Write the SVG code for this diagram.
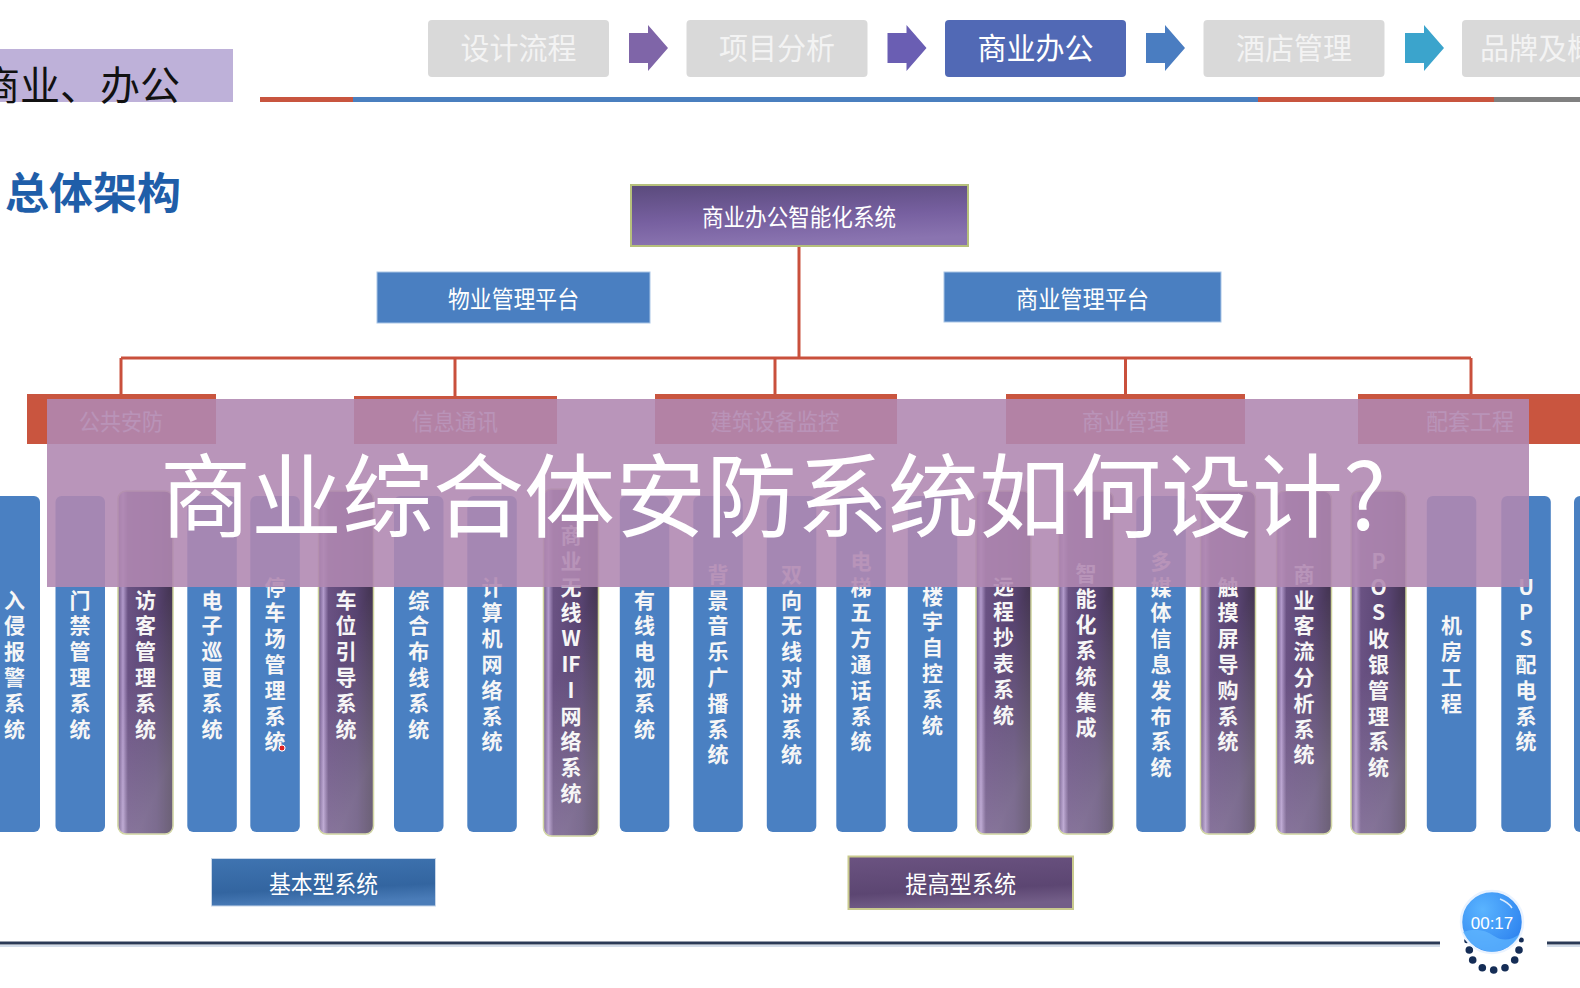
<svg xmlns="http://www.w3.org/2000/svg" width="1580" height="988" viewBox="0 0 1580 988">
<defs>
<style>
text { font-family: 'Noto Sans CJK SC', 'Noto Sans CJK JP', sans-serif; }
.c { text-anchor: middle; dominant-baseline: central; }
.tab { fill: #d9d9d9; }
.tabt { fill: #f3f3f3; font-size: 30px; }
.w { fill: #ffffff; }
.conn { stroke: #c9503c; stroke-width: 3; fill: none; }
.cat { fill: #c9553f; }
.catt { fill: #fbeeee; font-size: 23px; }
.bcol { fill: #4a80c2; }
.pcol { fill: url(#pg); stroke: #cdd29a; stroke-width: 1.5; }
.psh { fill: url(#psh); }
.colt { fill: #f6f6f6; font-size: 21px; font-weight: 700; text-anchor: middle; dominant-baseline: central; }
.dot { fill: #152d56; }
</style>
<linearGradient id="pg" x1="0" y1="0" x2="1" y2="0">
<stop offset="0" stop-color="#6d5687"/>
<stop offset="0.09" stop-color="#b29acb"/>
<stop offset="0.18" stop-color="#6a5283"/>
<stop offset="0.7" stop-color="#574370"/>
<stop offset="1" stop-color="#42334f"/>
</linearGradient>
<linearGradient id="psh" x1="0" y1="0" x2="0.35" y2="1">
<stop offset="0.55" stop-color="#ffffff" stop-opacity="0"/>
<stop offset="1" stop-color="#ffffff" stop-opacity="0.22"/>
</linearGradient>
<linearGradient id="rootg" x1="0" y1="0" x2="0.2" y2="1">
<stop offset="0" stop-color="#5a4a7c"/>
<stop offset="0.6" stop-color="#7760a0"/>
<stop offset="1" stop-color="#8a74b0"/>
</linearGradient>
<linearGradient id="basg" x1="0" y1="0" x2="0.2" y2="1">
<stop offset="0" stop-color="#3f74b1"/>
<stop offset="0.7" stop-color="#3365a0"/>
<stop offset="1" stop-color="#4a7cb8"/>
</linearGradient>
<linearGradient id="advg" x1="0" y1="0" x2="0.2" y2="1">
<stop offset="0" stop-color="#6b5381"/>
<stop offset="0.7" stop-color="#5c4672"/>
<stop offset="1" stop-color="#735e88"/>
</linearGradient>
<radialGradient id="timg" cx="0.35" cy="0.3" r="0.8">
<stop offset="0" stop-color="#5ab4ff"/>
<stop offset="1" stop-color="#2a7fee"/>
</radialGradient>
</defs>

<rect x="0" y="0" width="1580" height="988" fill="#ffffff"/>

<g id="header">
<rect x="0" y="49" width="233" height="53" fill="#beb1d9"/>
<text x="-20" y="83" font-size="40" fill="#111111" dominant-baseline="central">商业、办公</text>
<rect x="260" y="97" width="93" height="5" fill="#c8553f"/>
<rect x="353" y="97" width="905" height="5" fill="#4a7fbf"/>
<rect x="1258" y="97" width="236" height="5" fill="#c8553f"/>
<rect x="1494" y="97" width="86" height="5" fill="#808080"/>
</g>

<g id="tab-1"><rect class="tab" x="428" y="20" width="181" height="57" rx="4"/><text class="c tabt" x="518.5" y="46" textLength="116" lengthAdjust="spacingAndGlyphs">设计流程</text></g>
<g id="tab-2"><rect class="tab" x="686.5" y="20" width="181" height="57" rx="4"/><text class="c tabt" x="777" y="46" textLength="116" lengthAdjust="spacingAndGlyphs">项目分析</text></g>
<g id="tab-3"><rect x="945" y="20" width="181" height="57" rx="4" fill="#5169b5"/><text class="c tabt" x="1035.5" y="46" style="fill:#ffffff" textLength="116" lengthAdjust="spacingAndGlyphs">商业办公</text></g>
<g id="tab-4"><rect class="tab" x="1203.5" y="20" width="181" height="57" rx="4"/><text class="c tabt" x="1294" y="46" textLength="116" lengthAdjust="spacingAndGlyphs">酒店管理</text></g>
<g id="tab-5"><rect class="tab" x="1462" y="20" width="181" height="57" rx="4"/><text class="c tabt" x="1552.5" y="46" textLength="145" lengthAdjust="spacingAndGlyphs">品牌及概念</text></g>
<g id="tab-arrows">
<polygon points="629,33 648,33 648,25 668,48 648,71 648,63 629,63" fill="#7f65a8"/>
<polygon points="887.5,33 906.5,33 906.5,25 926.5,48 906.5,71 906.5,63 887.5,63" fill="#6a5eb3"/>
<polygon points="1146,33 1165,33 1165,25 1185,48 1165,71 1165,63 1146,63" fill="#4a7dc1"/>
<polygon points="1405,33 1424,33 1424,25 1444,48 1424,71 1424,63 1405,63" fill="#3ba4cc"/>
</g>

<g id="section-title"><text x="5" y="189.5" font-size="43" font-weight="700" fill="#1f5ea9" dominant-baseline="central" textLength="176" lengthAdjust="spacingAndGlyphs">总体架构</text></g>

<g id="connectors">
<line class="conn" x1="799" y1="246" x2="799" y2="358" stroke-width="4"/>
<line class="conn" x1="121" y1="358" x2="1471" y2="358"/>
<line class="conn" x1="121" y1="358" x2="121" y2="394"/>
<line class="conn" x1="455" y1="358" x2="455" y2="396"/>
<line class="conn" x1="775" y1="358" x2="775" y2="394"/>
<line class="conn" x1="1125.5" y1="358" x2="1125.5" y2="394"/>
<line class="conn" x1="1471" y1="358" x2="1471" y2="394"/>
</g>

<g id="root"><rect x="631" y="185" width="337" height="61" fill="url(#rootg)" stroke="#b6c07c" stroke-width="2"/><text class="c w" x="799" y="215.5" font-size="24" textLength="194" lengthAdjust="spacingAndGlyphs">商业办公智能化系统</text></g>
<g id="platform-property"><rect x="377" y="272" width="273" height="51" fill="#4a7fc1" stroke="#a9c6e6" stroke-width="1"/><text class="c w" x="513.5" y="297.5" font-size="24" textLength="131" lengthAdjust="spacingAndGlyphs">物业管理平台</text></g>
<g id="platform-commerce"><rect x="944" y="272" width="277" height="50" fill="#4a7fc1" stroke="#a9c6e6" stroke-width="1"/><text class="c w" x="1082.5" y="297" font-size="24" textLength="133" lengthAdjust="spacingAndGlyphs">商业管理平台</text></g>

<g id="cat-security"><rect class="cat" x="27" y="394" width="189" height="50"/><text class="c catt" x="121" y="420" textLength="84" lengthAdjust="spacingAndGlyphs">公共安防</text></g>
<g id="cat-comm"><rect class="cat" x="354" y="396" width="203" height="48"/><text class="c catt" x="455" y="420" textLength="86" lengthAdjust="spacingAndGlyphs">信息通讯</text></g>
<g id="cat-building"><rect class="cat" x="655" y="394" width="242" height="50"/><text class="c catt" x="775" y="420" textLength="129" lengthAdjust="spacingAndGlyphs">建筑设备监控</text></g>
<g id="cat-commerce"><rect class="cat" x="1006" y="394" width="239" height="50"/><text class="c catt" x="1125.5" y="420" textLength="87" lengthAdjust="spacingAndGlyphs">商业管理</text></g>
<g id="cat-support"><rect class="cat" x="1358" y="394" width="240" height="50"/><text class="c catt" x="1470" y="420" textLength="88" lengthAdjust="spacingAndGlyphs">配套工程</text></g>

<g id="col-01"><rect class="bcol" x="-11" y="496" width="51" height="336" rx="6"/><text class="colt" x="14.5" y="598.5"><tspan x="14.5">入</tspan><tspan x="14.5" dy="25.8">侵</tspan><tspan x="14.5" dy="25.8">报</tspan><tspan x="14.5" dy="25.8">警</tspan><tspan x="14.5" dy="25.8">系</tspan><tspan x="14.5" dy="25.8">统</tspan></text></g>
<g id="col-02"><rect class="bcol" x="55.5" y="496" width="49.5" height="336" rx="6"/><text class="colt" x="80" y="598.5"><tspan x="80">门</tspan><tspan x="80" dy="25.8">禁</tspan><tspan x="80" dy="25.8">管</tspan><tspan x="80" dy="25.8">理</tspan><tspan x="80" dy="25.8">系</tspan><tspan x="80" dy="25.8">统</tspan></text></g>
<g id="col-03"><rect class="pcol" x="118" y="491" width="55" height="343" rx="8"/><rect class="psh" x="118" y="491" width="55" height="343" rx="8"/><text class="colt" x="145.5" y="598.5"><tspan x="145.5">访</tspan><tspan x="145.5" dy="25.8">客</tspan><tspan x="145.5" dy="25.8">管</tspan><tspan x="145.5" dy="25.8">理</tspan><tspan x="145.5" dy="25.8">系</tspan><tspan x="145.5" dy="25.8">统</tspan></text></g>
<g id="col-04"><rect class="bcol" x="187.3" y="496" width="49.5" height="336" rx="6"/><text class="colt" x="212" y="598.5"><tspan x="212">电</tspan><tspan x="212" dy="25.8">子</tspan><tspan x="212" dy="25.8">巡</tspan><tspan x="212" dy="25.8">更</tspan><tspan x="212" dy="25.8">系</tspan><tspan x="212" dy="25.8">统</tspan></text></g>
<g id="col-05"><rect class="bcol" x="250.3" y="496" width="49.5" height="336" rx="6"/><text class="colt" x="275" y="585.6"><tspan x="275">停</tspan><tspan x="275" dy="25.8">车</tspan><tspan x="275" dy="25.8">场</tspan><tspan x="275" dy="25.8">管</tspan><tspan x="275" dy="25.8">理</tspan><tspan x="275" dy="25.8">系</tspan><tspan x="275" dy="25.8">统</tspan></text><circle cx="282" cy="748" r="3" fill="#e02222" stroke="#ffffff" stroke-width="1"/></g>
<g id="col-06"><rect class="pcol" x="318.5" y="491" width="55" height="343" rx="8"/><rect class="psh" x="318.5" y="491" width="55" height="343" rx="8"/><text class="colt" x="346" y="598.5"><tspan x="346">车</tspan><tspan x="346" dy="25.8">位</tspan><tspan x="346" dy="25.8">引</tspan><tspan x="346" dy="25.8">导</tspan><tspan x="346" dy="25.8">系</tspan><tspan x="346" dy="25.8">统</tspan></text></g>
<g id="col-07"><rect class="bcol" x="394" y="496" width="49.5" height="336" rx="6"/><text class="colt" x="418.7" y="598.5"><tspan x="418.7">综</tspan><tspan x="418.7" dy="25.8">合</tspan><tspan x="418.7" dy="25.8">布</tspan><tspan x="418.7" dy="25.8">线</tspan><tspan x="418.7" dy="25.8">系</tspan><tspan x="418.7" dy="25.8">统</tspan></text></g>
<g id="col-08"><rect class="bcol" x="467.3" y="496" width="49.5" height="336" rx="6"/><text class="colt" x="492" y="585.6"><tspan x="492">计</tspan><tspan x="492" dy="25.8">算</tspan><tspan x="492" dy="25.8">机</tspan><tspan x="492" dy="25.8">网</tspan><tspan x="492" dy="25.8">络</tspan><tspan x="492" dy="25.8">系</tspan><tspan x="492" dy="25.8">统</tspan></text></g>
<g id="col-09"><rect class="pcol" x="543.5" y="489" width="55" height="347" rx="8"/><rect class="psh" x="543.5" y="489" width="55" height="347" rx="8"/><text class="colt" x="571" y="534"><tspan x="571">商</tspan><tspan x="571" dy="25.8">业</tspan><tspan x="571" dy="25.8">无</tspan><tspan x="571" dy="25.8">线</tspan><tspan x="571" dy="25.8">W</tspan><tspan x="571" dy="25.8">IF</tspan><tspan x="571" dy="25.8">I</tspan><tspan x="571" dy="25.8">网</tspan><tspan x="571" dy="25.8">络</tspan><tspan x="571" dy="25.8">系</tspan><tspan x="571" dy="25.8">统</tspan></text></g>
<g id="col-10"><rect class="bcol" x="619.8" y="496" width="49.5" height="336" rx="6"/><text class="colt" x="644.5" y="598.5"><tspan x="644.5">有</tspan><tspan x="644.5" dy="25.8">线</tspan><tspan x="644.5" dy="25.8">电</tspan><tspan x="644.5" dy="25.8">视</tspan><tspan x="644.5" dy="25.8">系</tspan><tspan x="644.5" dy="25.8">统</tspan></text></g>
<g id="col-11"><rect class="bcol" x="693.3" y="496" width="49.5" height="336" rx="6"/><text class="colt" x="718" y="572.7"><tspan x="718">背</tspan><tspan x="718" dy="25.8">景</tspan><tspan x="718" dy="25.8">音</tspan><tspan x="718" dy="25.8">乐</tspan><tspan x="718" dy="25.8">广</tspan><tspan x="718" dy="25.8">播</tspan><tspan x="718" dy="25.8">系</tspan><tspan x="718" dy="25.8">统</tspan></text></g>
<g id="col-12"><rect class="bcol" x="766.8" y="496" width="49.5" height="336" rx="6"/><text class="colt" x="791.5" y="572.7"><tspan x="791.5">双</tspan><tspan x="791.5" dy="25.8">向</tspan><tspan x="791.5" dy="25.8">无</tspan><tspan x="791.5" dy="25.8">线</tspan><tspan x="791.5" dy="25.8">对</tspan><tspan x="791.5" dy="25.8">讲</tspan><tspan x="791.5" dy="25.8">系</tspan><tspan x="791.5" dy="25.8">统</tspan></text></g>
<g id="col-13"><rect class="bcol" x="836.3" y="496" width="49.5" height="336" rx="6"/><text class="colt" x="861" y="559.7"><tspan x="861">电</tspan><tspan x="861" dy="25.8">梯</tspan><tspan x="861" dy="25.8">五</tspan><tspan x="861" dy="25.8">方</tspan><tspan x="861" dy="25.8">通</tspan><tspan x="861" dy="25.8">话</tspan><tspan x="861" dy="25.8">系</tspan><tspan x="861" dy="25.8">统</tspan></text></g>
<g id="col-14"><rect class="bcol" x="907.8" y="496" width="49.5" height="336" rx="6"/><text class="colt" x="932.5" y="594.5"><tspan x="932.5">楼</tspan><tspan x="932.5" dy="25.8">宇</tspan><tspan x="932.5" dy="25.8">自</tspan><tspan x="932.5" dy="25.8">控</tspan><tspan x="932.5" dy="25.8">系</tspan><tspan x="932.5" dy="25.8">统</tspan></text></g>
<g id="col-15"><rect class="pcol" x="976" y="491" width="55" height="343" rx="8"/><rect class="psh" x="976" y="491" width="55" height="343" rx="8"/><text class="colt" x="1003.6" y="584.5"><tspan x="1003.6">远</tspan><tspan x="1003.6" dy="25.8">程</tspan><tspan x="1003.6" dy="25.8">抄</tspan><tspan x="1003.6" dy="25.8">表</tspan><tspan x="1003.6" dy="25.8">系</tspan><tspan x="1003.6" dy="25.8">统</tspan></text></g>
<g id="col-16"><rect class="pcol" x="1058.5" y="491" width="55" height="343" rx="8"/><rect class="psh" x="1058.5" y="491" width="55" height="343" rx="8"/><text class="colt" x="1086" y="571.6"><tspan x="1086">智</tspan><tspan x="1086" dy="25.8">能</tspan><tspan x="1086" dy="25.8">化</tspan><tspan x="1086" dy="25.8">系</tspan><tspan x="1086" dy="25.8">统</tspan><tspan x="1086" dy="25.8">集</tspan><tspan x="1086" dy="25.8">成</tspan></text></g>
<g id="col-17"><rect class="bcol" x="1136.3" y="496" width="49.5" height="336" rx="6"/><text class="colt" x="1161" y="559.8"><tspan x="1161">多</tspan><tspan x="1161" dy="25.8">媒</tspan><tspan x="1161" dy="25.8">体</tspan><tspan x="1161" dy="25.8">信</tspan><tspan x="1161" dy="25.8">息</tspan><tspan x="1161" dy="25.8">发</tspan><tspan x="1161" dy="25.8">布</tspan><tspan x="1161" dy="25.8">系</tspan><tspan x="1161" dy="25.8">统</tspan></text></g>
<g id="col-18"><rect class="pcol" x="1200.5" y="491" width="55" height="343" rx="8"/><rect class="psh" x="1200.5" y="491" width="55" height="343" rx="8"/><text class="colt" x="1228" y="585.6"><tspan x="1228">触</tspan><tspan x="1228" dy="25.8">摸</tspan><tspan x="1228" dy="25.8">屏</tspan><tspan x="1228" dy="25.8">导</tspan><tspan x="1228" dy="25.8">购</tspan><tspan x="1228" dy="25.8">系</tspan><tspan x="1228" dy="25.8">统</tspan></text></g>
<g id="col-19"><rect class="pcol" x="1276.5" y="491" width="55" height="343" rx="8"/><rect class="psh" x="1276.5" y="491" width="55" height="343" rx="8"/><text class="colt" x="1304" y="572.7"><tspan x="1304">商</tspan><tspan x="1304" dy="25.8">业</tspan><tspan x="1304" dy="25.8">客</tspan><tspan x="1304" dy="25.8">流</tspan><tspan x="1304" dy="25.8">分</tspan><tspan x="1304" dy="25.8">析</tspan><tspan x="1304" dy="25.8">系</tspan><tspan x="1304" dy="25.8">统</tspan></text></g>
<g id="col-20"><rect class="pcol" x="1351" y="491" width="55" height="343" rx="8"/><rect class="psh" x="1351" y="491" width="55" height="343" rx="8"/><text class="colt" x="1378.5" y="559.8"><tspan x="1378.5">P</tspan><tspan x="1378.5" dy="25.8">O</tspan><tspan x="1378.5" dy="25.8">S</tspan><tspan x="1378.5" dy="25.8">收</tspan><tspan x="1378.5" dy="25.8">银</tspan><tspan x="1378.5" dy="25.8">管</tspan><tspan x="1378.5" dy="25.8">理</tspan><tspan x="1378.5" dy="25.8">系</tspan><tspan x="1378.5" dy="25.8">统</tspan></text></g>
<g id="col-21"><rect class="bcol" x="1426.8" y="496" width="49.5" height="336" rx="6"/><text class="colt" x="1451.5" y="624.3"><tspan x="1451.5">机</tspan><tspan x="1451.5" dy="25.8">房</tspan><tspan x="1451.5" dy="25.8">工</tspan><tspan x="1451.5" dy="25.8">程</tspan></text></g>
<g id="col-22"><rect class="bcol" x="1501.3" y="496" width="49.5" height="336" rx="6"/><text class="colt" x="1526" y="585.6"><tspan x="1526">U</tspan><tspan x="1526" dy="25.8">P</tspan><tspan x="1526" dy="25.8">S</tspan><tspan x="1526" dy="25.8">配</tspan><tspan x="1526" dy="25.8">电</tspan><tspan x="1526" dy="25.8">系</tspan><tspan x="1526" dy="25.8">统</tspan></text></g>
<g id="col-23"><rect class="bcol" x="1574" y="496" width="50" height="336" rx="6"/></g>

<g id="type-basic"><rect x="211.5" y="858.5" width="224" height="47.5" fill="url(#basg)" stroke="#c8d6e8" stroke-width="1"/><text class="c w" x="323.5" y="882" font-size="24" textLength="109" lengthAdjust="spacingAndGlyphs">基本型系统</text></g>
<g id="type-advanced"><rect x="848.5" y="856.5" width="224.5" height="52.5" fill="url(#advg)" stroke="#c9ca8e" stroke-width="2"/><text class="c w" x="960.7" y="882.5" font-size="24" textLength="111" lengthAdjust="spacingAndGlyphs">提高型系统</text></g>

<g id="overlay">
<rect x="47" y="399" width="1482" height="188" fill="#b088b1" fill-opacity="0.89"/>
<text x="160" y="490" font-size="91" fill="#ffffff" dominant-baseline="central">商业综合体安防系统如何设计?</text>
</g>

<g id="footer">
<line x1="0" y1="943" x2="1440" y2="943" stroke="#2b3a56" stroke-width="3"/>
<line x1="0" y1="946" x2="1440" y2="946" stroke="#c3d0e2" stroke-width="1.5"/>
<line x1="1547" y1="943" x2="1580" y2="943" stroke="#2b3a56" stroke-width="3"/>
<line x1="1547" y1="946" x2="1580" y2="946" stroke="#c3d0e2" stroke-width="1.5"/>
</g>

<g id="timer">
<circle class="dot" cx="1466.7" cy="940.7" r="2.5"/>
<circle class="dot" cx="1521.3" cy="940" r="2.5"/>
<circle class="dot" cx="1469.3" cy="950" r="3.8"/>
<circle class="dot" cx="1472.7" cy="960" r="3.8"/>
<circle class="dot" cx="1482.3" cy="967.7" r="3.8"/>
<circle class="dot" cx="1493.7" cy="970" r="3.8"/>
<circle class="dot" cx="1505" cy="967.7" r="3.8"/>
<circle class="dot" cx="1514.7" cy="960" r="3.8"/>
<circle class="dot" cx="1519" cy="950" r="3.8"/>
<circle cx="1492" cy="922" r="31" fill="url(#timg)" stroke="#eaf3ff" stroke-width="2.5"/>
<path d="M1463,932 Q1480,926 1494,936 Q1506,944 1520,934 Q1512,950 1492,952 Q1472,950 1463,932 Z" fill="#62b8ff" opacity="0.7"/>
<path d="M1500,899 Q1508,902 1512,908" fill="none" stroke="#ffffff" stroke-width="1.5" opacity="0.8"/>
<text class="c w" x="1492" y="923" font-size="17" style="font-family:'Liberation Sans', Arial, sans-serif">00:17</text>
</g>
</svg>
